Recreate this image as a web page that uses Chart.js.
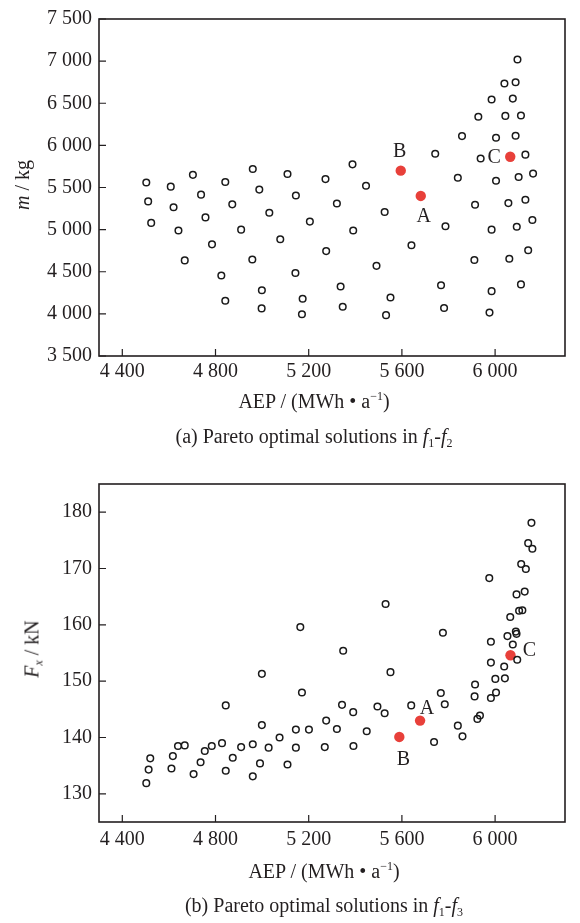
<!DOCTYPE html>
<html>
<head>
<meta charset="utf-8">
<script src="https://cdn.jsdelivr.net/npm/chart.js@4.4.1/dist/chart.umd.min.js"></script>
<style>
  body { margin: 0; background: #fff; width: 580px; height: 923px; position: relative; overflow: hidden;
         font-family: "Liberation Serif", "DejaVu Serif", serif; color: #231f20; }
  .plot { position: absolute; left: 0; width: 580px; height: 420px; }
  .ytitle { position: absolute; font-size: 20px; line-height: 24px; white-space: nowrap;
            transform: translate(-50%, -50%) rotate(-90deg); }
  .line { position: absolute; left: 0; font-size: 20px; line-height: 24px; text-align: center; white-space: nowrap; }
  sub { font-size: 12px; vertical-align: baseline; position: relative; top: 4px; }
  sup { font-size: 12px; vertical-align: baseline; position: relative; top: -8px; }
</style>
</head>
<body>
<div class="plot" style="top:0"><canvas id="chartA" width="580" height="420"></canvas></div>
<div class="ytitle" style="left:22px; top:185px"><i>m</i> / kg</div>
<div class="line" style="top:389px; width:628px">AEP / (MWh • a<sup>−1</sup>)</div>
<div class="line" style="top:424px; width:628px">(a) Pareto optimal solutions in <i>f</i><sub>1</sub>-<i>f</i><sub>2</sub></div>

<div class="plot" style="top:465px"><canvas id="chartB" width="580" height="420"></canvas></div>
<div class="ytitle" style="left:33px; top:649px"><i>F</i><sub><i>x</i></sub> / kN</div>
<div class="line" style="top:859px; width:648px">AEP / (MWh • a<sup>−1</sup>)</div>
<div class="line" style="top:893px; width:648px">(b) Pareto optimal solutions in <i>f</i><sub>1</sub>-<i>f</i><sub>3</sub></div>

<script>
// tick labels
const aepTicks = [4400, 4800, 5200, 5600, 6000];
const massTicks = [3500, 4000, 4500, 5000, 5500, 6000, 6500, 7000, 7500];
const forceTicks = [130, 140, 150, 160, 170, 180];

// (a) f1-f2 : AEP vs mass
const aepF2 = [6096, 6040, 6088, 5985, 6076, 5928, 6044, 6111, 5858, 6004, 6088, 5743, 5938, 6130, 5840,
  6004, 6101, 6163, 5388, 5446, 5272, 5109, 5145, 4960, 4988, 4842, 4703, 4738, 4608, 4503,
  4511, 4620, 4524, 4641, 4757, 4668, 4785, 4872, 4910, 4825, 4842, 5031, 4958, 4999, 4998,
  5078, 5205, 5143, 5174, 5171, 5275, 5321, 5391, 5337, 5346, 5491, 5526, 5551, 5532, 5641,
  5787, 5768, 5781, 5914, 5911, 5985, 5985, 5976, 6057, 6130, 6093, 6160, 6061, 6142, 6111];
const massF2 = [7020, 6735, 6750, 6545, 6555, 6340, 6350, 6355, 6110, 6090, 6115, 5900, 5845, 5890, 5615,
  5580, 5625, 5665, 5775, 5520, 5600, 5660, 5405, 5720, 5475, 5565, 5650, 5415, 5510, 5560,
  5335, 5265, 5080, 4990, 5145, 4635, 4825, 5300, 5000, 4455, 4155, 5200, 4645, 4280, 4065,
  4885, 5095, 4485, 4180, 3995, 4745, 5310, 4990, 4325, 4085, 4570, 5210, 4195, 3985, 4815,
  5040, 4340, 4070, 5295, 4640, 5000, 4270, 4015, 5315, 5355, 5035, 5115, 4655, 4755, 4350];

// (b) f1-f3 : AEP vs thrust
const aepF3 = [6156, 6142, 6160, 6112, 6132, 5975, 6092, 6127, 5530, 6103, 6117, 6065, 5164, 5776, 6089,
  6092, 6053, 5982, 6076, 6095, 5982, 6039, 6001, 6042, 5914, 5912, 6004, 5982, 5935, 5924,
  5840, 5860, 5767, 5784, 5738, 5640, 5551, 5526, 5495, 5449, 5348, 5391, 5343, 5392, 5321,
  5275, 5269, 5171, 5201, 5145, 5145, 5109, 5075, 4999, 4999, 5028, 4991, 4960, 4960, 4910,
  4874, 4844, 4844, 4828, 4784, 4754, 4736, 4706, 4668, 4639, 4617, 4611, 4520, 4513, 4503];
const forceF3 = [178.1, 174.5, 173.5, 170.8, 169.9, 168.3, 165.4, 165.9, 163.7, 162.5, 162.6, 161.4, 159.6, 158.6, 158.8,
  158.4, 158.0, 157.0, 156.5, 153.8, 153.3, 152.6, 150.4, 150.5, 149.4, 147.3, 148.0, 147.0, 143.9, 143.3,
  142.1, 140.2, 147.9, 145.9, 139.2, 145.7, 151.6, 144.3, 145.5, 141.1, 155.4, 144.5, 145.8, 138.5, 141.5,
  143.0, 138.3, 148.0, 141.4, 141.4, 138.2, 135.2, 140.0, 151.3, 142.2, 138.2, 135.4, 138.8, 133.1, 138.3,
  136.4, 145.7, 134.1, 139.0, 138.5, 137.6, 135.6, 133.5, 138.6, 138.5, 136.7, 134.5, 136.3, 134.3, 131.9];

// selected solutions A, B, C
const pickNames = ['A', 'B', 'C'];
const pickAepF2 = [5681, 5595, 6065];
const pickMassF2 = [5400, 5700, 5865];
const pickAepF3 = [5678, 5589, 6066];
const pickForceF3 = [143.0, 140.1, 154.6];

const ink = '#231f20';
const serif = '"Liberation Serif", "DejaVu Serif", serif';

function fmt(v) {
  return String(v).replace(/\B(?=(\d{3})+(?!\d))/g, ' ');
}

const frame = {
  id: 'frame',
  beforeDatasetsDraw(chart) {
    const { ctx, chartArea: a, scales: { x, y } } = chart;
    ctx.save();
    ctx.strokeStyle = ink;
    ctx.lineWidth = 1.6;
    ctx.strokeRect(a.left, a.top, a.right - a.left, a.bottom - a.top);
    ctx.lineWidth = 1.2;
    ctx.beginPath();
    x.ticks.forEach(t => {
      const px = x.getPixelForValue(t.value);
      ctx.moveTo(px, a.bottom);
      ctx.lineTo(px, a.bottom - 7);
    });
    y.ticks.forEach(t => {
      const py = y.getPixelForValue(t.value);
      ctx.moveTo(a.left, py);
      ctx.lineTo(a.left + 7, py);
    });
    ctx.stroke();
    ctx.restore();
  },
  afterDatasetsDraw(chart, args, opts) {
    const { ctx } = chart;
    const meta = chart.getDatasetMeta(1);
    ctx.save();
    ctx.fillStyle = ink;
    ctx.font = '20px ' + serif;
    ctx.textAlign = 'center';
    ctx.textBaseline = 'middle';
    meta.data.forEach((pt, i) => {
      const off = opts.offsets[i];
      ctx.fillText(pickNames[i], pt.x + off[0], pt.y + off[1]);
    });
    ctx.restore();
  }
};

function makeChart(id, xs, ys, px, py, yMin, yMax, yTicks, axisH, labelPad, offsets) {
  const pts = xs.map((v, i) => ({ x: v, y: ys[i] }));
  const picks = px.map((v, i) => ({ x: v, y: py[i] }));
  return new Chart(document.getElementById(id), {
    type: 'scatter',
    data: {
      datasets: [{
        data: pts,
        pointRadius: 3.3,
        pointBorderWidth: 1.5,
        borderColor: '#1a1a1a',
        backgroundColor: 'rgba(255,255,255,0)'
      }, {
        data: picks,
        pointRadius: 5.2,
        pointBorderWidth: 0,
        borderColor: '#e8403a',
        backgroundColor: '#e8403a'
      }]
    },
    options: {
      responsive: false,
      animation: false,
      layout: { padding: { top: 13, right: 15, left: 0, bottom: 0 } },
      plugins: {
        legend: { display: false },
        tooltip: { enabled: false },
        frame: { offsets: offsets }
      },
      scales: {
        x: {
          type: 'linear',
          min: 4300,
          max: 6300,
          afterBuildTicks: s => { s.ticks = aepTicks.map(v => ({ value: v })); },
          afterFit: s => { s.height = axisH; },
          grid: { display: false, drawTicks: false },
          border: { display: false },
          ticks: { callback: fmt, color: ink, padding: labelPad, maxRotation: 0, autoSkip: false,
                   font: { family: serif, size: 20 } }
        },
        y: {
          type: 'linear',
          min: yMin,
          max: yMax,
          afterBuildTicks: s => { s.ticks = yTicks.map(v => ({ value: v })); },
          afterFit: s => { s.width = 99; },
          grid: { display: false, drawTicks: false },
          border: { display: false },
          ticks: { callback: fmt, color: ink, padding: 7, autoSkip: false,
                   font: { family: serif, size: 20 } }
        }
      }
    },
    plugins: [frame]
  });
}

makeChart('chartA', aepF2, massF2, pickAepF2, pickMassF2, 3500, 7500, massTicks, 64, 4,
  [[3, 21], [-1, -19], [-16, 1]]);
makeChart('chartB', aepF3, forceF3, pickAepF3, pickForceF3, 125, 185, forceTicks, 63, 6,
  [[7, -12], [4, 23], [19, -5]]);
</script>
</body>
</html>
